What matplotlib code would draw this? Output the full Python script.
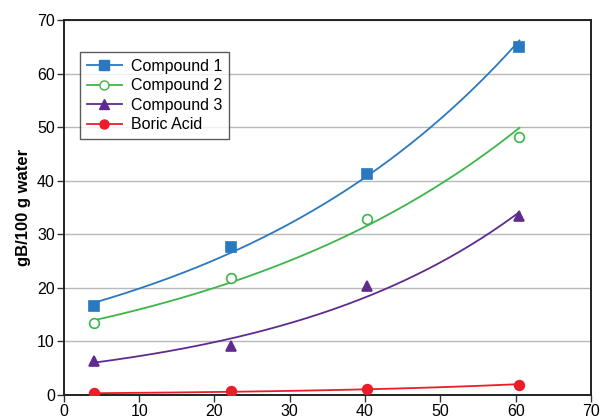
import matplotlib.pyplot as plt
import numpy as np

plt.rcParams["font.family"] = ["Liberation Sans", "DejaVu Sans"]

# temperatures (x) and solubility values
temps = [4.0, 22.2, 40.3, 60.5]
compound_1 = [16.7, 27.7, 41.2, 65.0]
compound_2 = [13.4, 21.9, 32.8, 48.1]
compound_3 = [6.4, 9.2, 20.3, 33.5]
boric_acid = [0.3, 0.7, 1.1, 1.9]

series = [
    ("Compound 1", compound_1, "#2a78c0", "s", True),
    ("Compound 2", compound_2, "#3cb54a", "o", False),
    ("Compound 3", compound_3, "#5f2b90", "^", True),
    ("Boric Acid", boric_acid, "#ec1c2a", "o", True),
]

fig, ax = plt.subplots(figsize=(6.08, 4.18), dpi=100)
fig.subplots_adjust(left=0.105, right=0.972, top=0.952, bottom=0.055)

x_fit = np.linspace(temps[0], temps[-1], 200)
for name, values, color, marker, filled in series:
    # exponential trend line through the points
    b, log_a = np.polyfit(temps, np.log(values), 1)
    ax.plot(x_fit, np.exp(log_a + b * x_fit), color=color, lw=1.3, zorder=3)
    ax.plot(temps, values, linestyle="none", marker=marker, color=color,
            markersize=7 if marker != "^" else 6.5,
            markerfacecolor=color if filled else "white",
            markeredgewidth=1.2, zorder=4)
    ax.plot([], [], color=color, marker=marker, lw=1.3, markersize=6.5,
            markerfacecolor=color if filled else "white", label=name)

ax.set_xlim(0, 70)
ax.set_ylim(0, 70)
ax.set_xticks(range(0, 71, 10))
ax.set_yticks(range(0, 71, 10))
ax.yaxis.grid(True, color="#b8b8b8", lw=1.0)
ax.set_axisbelow(True)
ax.tick_params(labelsize=11.5, length=5, width=1, color="#333333", pad=1.5)
for spine in ax.spines.values():
    spine.set_linewidth(1.4)
    spine.set_color("#222222")

ax.set_ylabel("gB/100 g water", fontsize=12, fontweight="bold", labelpad=4)

leg = ax.legend(loc="upper left", bbox_to_anchor=(0.016, 0.935), fontsize=11.5,
                frameon=True, fancybox=False, edgecolor="#333333",
                handlelength=2.2, borderpad=0.4, labelspacing=0.28,
                handletextpad=0.6)
leg.get_frame().set_linewidth(1.0)

fig.savefig("out.png", dpi=100)
